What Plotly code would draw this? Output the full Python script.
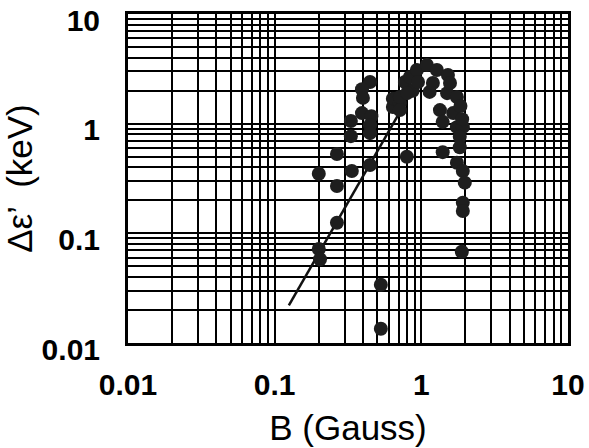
import plotly.graph_objects as go

# Scatter data: B (Gauss) and delta-epsilon' (keV)
b_vals = [0.200, 0.200, 0.204, 0.266, 0.266, 0.266, 0.331, 0.331, 0.336, 0.447,
          0.447, 0.394, 0.400, 0.394, 0.457, 0.447, 0.447, 0.53, 0.53, 0.64,
          0.64, 0.66, 0.714, 0.714, 0.714, 0.773, 0.797, 0.836, 0.874, 0.933,
          1.092, 1.14, 1.20, 1.277, 1.34, 1.40, 1.40, 1.50, 1.52, 1.57,
          1.75, 1.75, 1.92, 1.83, 1.83, 1.75, 1.92, 1.98, 1.92, 1.92,
          1.89, 1.65, 1.90, 1.85, 0.95, 0.80]
de_vals = [0.35, 0.072, 0.058, 0.53, 0.27, 0.125, 1.06, 0.77, 0.37, 0.42,
           2.40, 2.06, 1.72, 1.25, 1.17, 0.97, 0.82, 0.034, 0.0135, 1.69,
           1.42, 1.69, 1.54, 1.33, 1.75, 2.40, 0.50, 2.67, 2.0, 3.09,
           3.43, 1.95, 2.35, 3.09, 1.33, 1.04, 0.55, 1.90, 2.78, 2.35,
           1.75, 0.93, 0.93, 0.76, 0.61, 0.44, 0.37, 0.29, 0.19, 0.16,
           0.068, 1.25, 1.10, 1.45, 2.40, 1.90]

# Fitted power-law line endpoints
fit_b = [0.125, 0.72]
fit_de = [0.022, 1.30]

major_ticks = [0.01, 0.1, 1, 10]
major_labels = ["0.01", "0.1", "1", "10"]
minor_digits = [2, 3, 4, 5, 6, 7, 8, 9]
minor_ticks = [d * m for m in [0.01, 0.1, 1] for d in minor_digits]

fig = go.Figure()
fig.add_trace(go.Scatter(x=fit_b, y=fit_de, mode="lines",
                         line=dict(color="#111111", width=2.5), showlegend=False))
fig.add_trace(go.Scatter(x=b_vals, y=de_vals, mode="markers",
                         marker=dict(color="#1e1e1e", size=14, line=dict(width=0)),
                         showlegend=False))

tickfont = dict(family="Liberation Sans, Arial, sans-serif",
                size=30, color="black", weight="bold")
titlefont = dict(family="Liberation Sans, Arial, sans-serif", size=35, color="black")

common = dict(type="log", tickmode="array", tickvals=major_ticks, ticktext=major_labels,
              showgrid=True, gridcolor="black", gridwidth=1.5,
              minor=dict(tickmode="array", tickvals=minor_ticks, showgrid=True,
                         gridcolor="black", gridwidth=1.5, ticks=""),
              showline=True, linecolor="black", linewidth=3, mirror=True,
              ticks="", tickfont=tickfont, zeroline=False, automargin=False,
              ticklabeloverflow="allow")

fig.update_xaxes(range=[-2, 1.0005], title=dict(text="B (Gauss)", font=titlefont, standoff=16),
                 ticklabelstandoff=13, **common)
fig.update_yaxes(range=[-2, 1.0005], title=dict(text="Δε’  (keV)", font=titlefont, standoff=3),
                 ticklabelstandoff=19, ticklabelshift=6, **common)

fig.update_layout(width=589, height=448, margin=dict(l=128, r=21, t=14, b=105),
                  plot_bgcolor="white", paper_bgcolor="white")

fig.write_html("out.html", config={"displayModeBar": False},
               post_script="document.body.style.margin='0';document.body.style.overflow='hidden';")
